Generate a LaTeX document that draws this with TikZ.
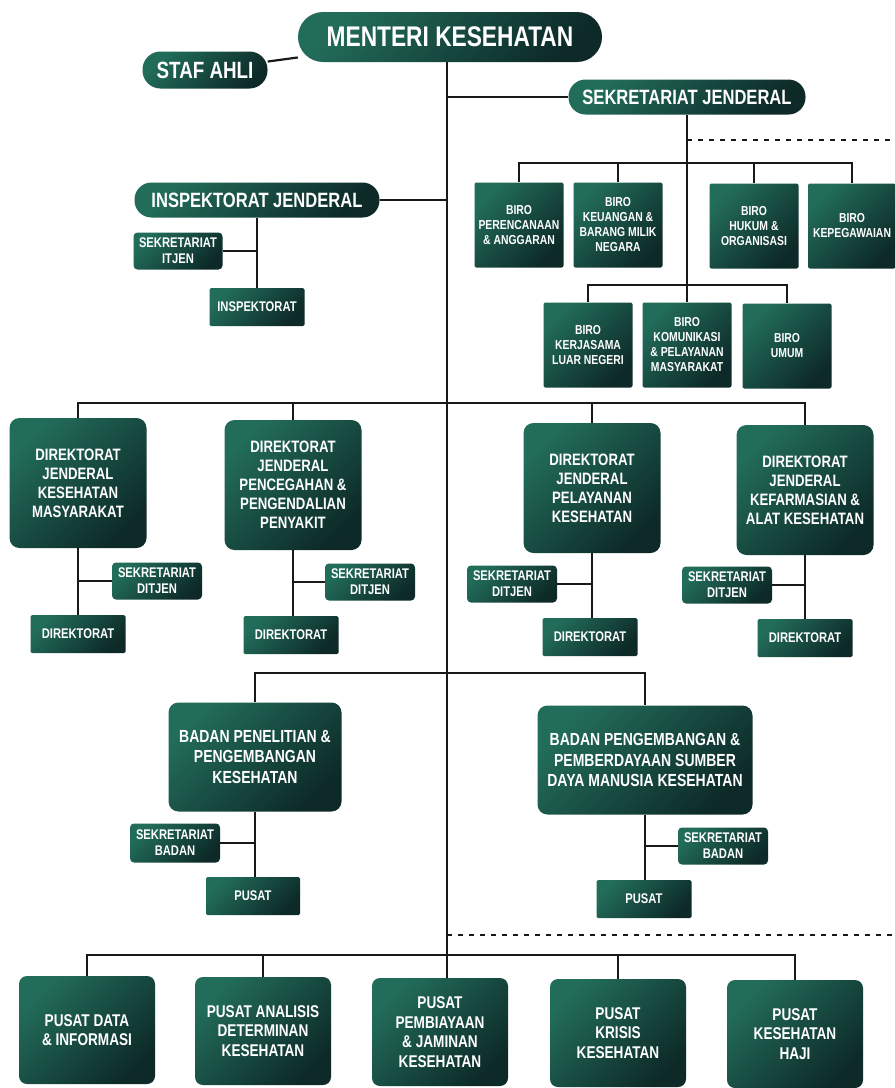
\documentclass[tikz,border=0pt]{standalone}
\usepackage{fontspec}
\newfontfamily\orgfont{Liberation Sans}[FakeStretch=0.8]
\usetikzlibrary{backgrounds}
\definecolor{teallight}{RGB}{34,108,90}
\definecolor{tealdark}{RGB}{13,42,40}
\definecolor{linecol}{RGB}{25,25,25}

\begin{document}
\begin{tikzpicture}[x=1pt,y=-1pt]

    \tikzset{
        unit/.style={top color=teallight, bottom color=tealdark, shading angle=45,
            text=white, align=center, inner sep=0pt},
        pillbox/.style={unit, rounded corners=17pt, minimum height=35pt,
            font=\orgfont\bfseries\fontsize{20.7}{24}\selectfont},
        biro/.style={unit, rounded corners=2pt, minimum width=89pt, minimum height=85pt,
            font=\orgfont\bfseries\fontsize{13}{15}\selectfont},
        ditjen/.style={unit, rounded corners=10pt, minimum width=137pt, minimum height=130pt,
            font=\orgfont\bfseries\fontsize{16.5}{19}\selectfont},
        subbox/.style={unit, rounded corners=4pt, minimum width=90pt, minimum height=37pt,
            font=\orgfont\bfseries\fontsize{14}{16.1}\selectfont},
        leafbox/.style={unit, rounded corners=1.5pt, minimum width=95pt, minimum height=38pt,
            font=\orgfont\bfseries\fontsize{14}{16.1}\selectfont},
        badan/.style={unit, rounded corners=10pt, minimum height=109pt,
            font=\orgfont\bfseries\fontsize{17.5}{20.1}\selectfont},
        pusatbox/.style={unit, rounded corners=8pt, minimum width=136pt, minimum height=108pt,
            font=\orgfont\bfseries\fontsize{17}{19.6}\selectfont},
        dashline/.style={dash pattern=on 5pt off 6pt, line width=2.5pt}
    }
    \useasboundingbox (0,0) rectangle (895,1088);

    % top level
    \node[pillbox, minimum width=304pt, minimum height=50pt, rounded corners=25pt,
        font=\orgfont\bfseries\fontsize{28.4}{32}\selectfont] (menteri) at (450,37) {MENTERI KESEHATAN};
    \node[pillbox, minimum width=125pt, minimum height=37pt, rounded corners=18pt,
        font=\orgfont\bfseries\fontsize{23.5}{27}\selectfont] (staf) at (205,70) {STAF AHLI};
    \node[pillbox, minimum width=237pt] (sekjen) at (687,97) {SEKRETARIAT JENDERAL};
    \node[pillbox, minimum width=245pt] (itjen) at (257,200) {INSPEKTORAT JENDERAL};
    \node[subbox, minimum width=89pt] (sekitjen) at (178,251) {SEKRETARIAT\\ITJEN};
    \node[leafbox] (inspektorat) at (257,307) {INSPEKTORAT};
    \coordinate (spine) at (447,0);

    % biro
    \node[biro] (perencanaan) at (519,225) {BIRO\\PERENCANAAN\\\& ANGGARAN};
    \node[biro] (keuangan) at (618,225) {BIRO\\KEUANGAN \&\\BARANG MILIK\\NEGARA};
    \node[biro] (hukum) at (754,226) {BIRO\\HUKUM \&\\ORGANISASI};
    \node[biro, minimum width=88pt] (kepegawaian) at (852,226) {BIRO\\KEPEGAWAIAN};
    \node[biro] (kerjasama) at (588,345) {BIRO\\KERJASAMA\\LUAR NEGERI};
    \node[biro] (komunikasi) at (687,345) {BIRO\\KOMUNIKASI\\\& PELAYANAN\\MASYARAKAT};
    \node[biro] (umum) at (787,346) {BIRO\\UMUM};
    \coordinate (birobus) at (687,163);
    \coordinate (birobusb) at (687,285);
    \coordinate (dashsek) at (895,140);

    % direktorat jenderal
    \node[ditjen] (kesmas) at (78,483) {DIREKTORAT\\JENDERAL\\KESEHATAN\\MASYARAKAT};
    \node[ditjen] (p2p) at (293,485) {DIREKTORAT\\JENDERAL\\PENCEGAHAN \&\\PENGENDALIAN\\PENYAKIT};
    \node[ditjen] (yankes) at (592,488) {DIREKTORAT\\JENDERAL\\PELAYANAN\\KESEHATAN};
    \node[ditjen] (farmalkes) at (805,490) {DIREKTORAT\\JENDERAL\\KEFARMASIAN \&\\ALAT KESEHATAN};
    \node[subbox] (sekkesmas) at (157,581) {SEKRETARIAT\\DITJEN};
    \node[subbox] (sekp2p) at (370,582) {SEKRETARIAT\\DITJEN};
    \node[subbox] (sekyankes) at (512,584) {SEKRETARIAT\\DITJEN};
    \node[subbox] (sekfarmalkes) at (727,585) {SEKRETARIAT\\DITJEN};
    \node[leafbox] (dirkesmas) at (78,634) {DIREKTORAT};
    \node[leafbox] (dirp2p) at (291,635) {DIREKTORAT};
    \node[leafbox] (diryankes) at (590,637) {DIREKTORAT};
    \node[leafbox] (dirfarmalkes) at (805,638) {DIREKTORAT};
    \coordinate (ditjenbus) at (447,403);

    % badan
    \node[badan, minimum width=173pt] (litbang) at (255,757) {BADAN PENELITIAN \&\\PENGEMBANGAN\\KESEHATAN};
    \node[badan, minimum width=215pt] (ppsdm) at (645,760) {BADAN PENGEMBANGAN \&\\PEMBERDAYAAN SUMBER\\DAYA MANUSIA KESEHATAN};
    \node[subbox, minimum height=39pt] (seklitbang) at (175,843) {SEKRETARIAT\\BADAN};
    \node[subbox] (sekppsdm) at (723,846) {SEKRETARIAT\\BADAN};
    \node[leafbox, minimum width=94pt] (puslitbang) at (253,896) {PUSAT};
    \node[leafbox] (pusppsdm) at (644,899) {PUSAT};
    \coordinate (badanbus) at (447,673);

    % pusat
    \node[pusatbox] (pusdatin) at (87,1030) {PUSAT DATA\\\& INFORMASI};
    \node[pusatbox] (analisis) at (263,1031) {PUSAT ANALISIS\\DETERMINAN\\KESEHATAN};
    \node[pusatbox] (pembiayaan) at (440,1032) {PUSAT\\PEMBIAYAAN\\\& JAMINAN\\KESEHATAN};
    \node[pusatbox] (krisis) at (618,1033) {PUSAT\\KRISIS\\KESEHATAN};
    \node[pusatbox] (haji) at (795,1034) {PUSAT\\KESEHATAN\\HAJI};
    \coordinate (pusatbus) at (447,955);
    \coordinate (dashpusat) at (895,935);

    \begin{scope}[on background layer]
        \fill[white] (0,0) rectangle (895,1088);
        \begin{scope}[every path/.style={draw=linecol, line width=2.2pt}]
            \draw (menteri.south -| spine) -- (pembiayaan.north -| spine);
            \draw (staf) -- (menteri);
            \draw (spine |- sekjen) -- (sekjen);
            \draw (itjen) -- (spine |- itjen);

            \draw (sekjen) -- (komunikasi);
            \draw (perencanaan) |- (birobus) -| (kepegawaian);
            \draw (keuangan) -- (keuangan |- birobus);
            \draw (hukum) -- (hukum |- birobus);
            \draw (kerjasama) |- (birobusb) -| (umum);

            \draw (kesmas) |- (ditjenbus) -| (farmalkes);
            \draw (p2p) -- (p2p |- ditjenbus);
            \draw (yankes) -- (yankes |- ditjenbus);

            \draw (litbang) |- (badanbus) -| (ppsdm);

            \draw (pusdatin) |- (pusatbus) -| (haji);
            \draw (analisis) -- (analisis |- pusatbus);
            \draw (krisis) -- (krisis |- pusatbus);

            \foreach \u/\v in {itjen/inspektorat, kesmas/dirkesmas, p2p/dirp2p,
                yankes/diryankes, farmalkes/dirfarmalkes, litbang/puslitbang, ppsdm/pusppsdm} {
                \draw (\u) -- (\u |- \v);
                \draw (sek\u) -- (sek\u -| \u);
            }
        \end{scope}
        \draw[dashline, draw=linecol] (dashsek -| sekjen) -- (dashsek);
        \draw[dashline, draw=linecol] (dashpusat -| spine) -- (dashpusat);
    \end{scope}
\end{tikzpicture}
\end{document}
